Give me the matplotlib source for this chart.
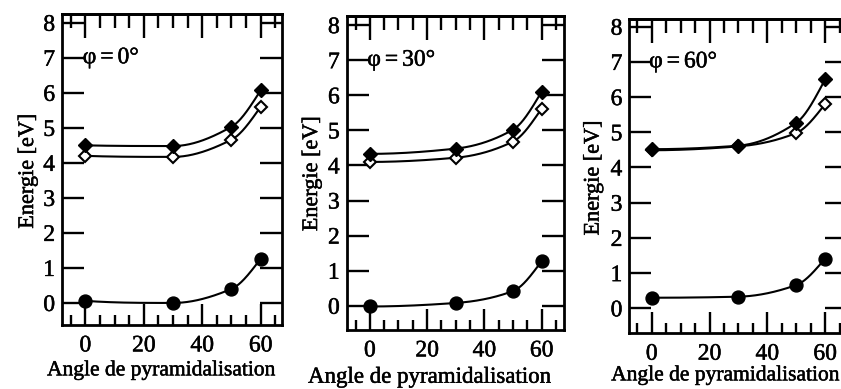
import numpy as np
import matplotlib
matplotlib.use("Agg")
import matplotlib.pyplot as plt
import matplotlib.patheffects as pe
from matplotlib.ticker import MultipleLocator

plt.rcParams['font.family'] = ['Liberation Serif', 'DejaVu Serif']

# pyramidalisation angles (degrees)
angles = [0, 30, 50, 60]

# phi = 0 deg
phi0_filled = [4.50, 4.48, 5.03, 6.07]
phi0_open = [4.20, 4.17, 4.66, 5.60]
phi0_circle = [0.06, 0.00, 0.40, 1.26]

# phi = 30 deg
phi30_filled = [4.33, 4.48, 5.02, 6.10]
phi30_open = [4.10, 4.22, 4.68, 5.62]
phi30_circle = [-0.02, 0.08, 0.42, 1.27]

# phi = 60 deg
phi60_filled = [4.52, 4.62, 5.27, 6.50]
phi60_open = [4.49, 4.60, 4.98, 5.80]
phi60_circle = [0.30, 0.33, 0.66, 1.41]

panel_titles = ["φ\u2006=\u20060°", "φ\u2006=\u200630°", "φ\u2006=\u200660°"]
y_ticks = [0, 1, 2, 3, 4, 5, 6, 7, 8]
x_ticks = [0, 20, 40, 60]
x_label = "Angle de pyramidalisation"
y_label = "Energie [eV]"

# slightly heavier glyphs, like printed type
heavy = [pe.Stroke(linewidth=0.35, foreground="black"), pe.Normal()]


def pchip(x, y, xs):
    """Monotone cubic Hermite curve through the measured points."""
    x = np.asarray(x, float)
    y = np.asarray(y, float)
    h = np.diff(x)
    delta = np.diff(y) / h
    n = len(x)
    d = np.zeros(n)
    for k in range(1, n - 1):
        if delta[k - 1] * delta[k] > 0:
            w1 = 2 * h[k] + h[k - 1]
            w2 = h[k] + 2 * h[k - 1]
            d[k] = (w1 + w2) / (w1 / delta[k - 1] + w2 / delta[k])

    def end_slope(h0, h1, d0, d1):
        s = ((2 * h0 + h1) * d0 - h0 * d1) / (h0 + h1)
        if np.sign(s) != np.sign(d0):
            s = 0.0
        elif np.sign(d0) != np.sign(d1) and abs(s) > abs(3 * d0):
            s = 3 * d0
        return s

    d[0] = end_slope(h[0], h[1], delta[0], delta[1])
    d[-1] = end_slope(h[-1], h[-2], delta[-1], delta[-2])

    xs = np.asarray(xs, float)
    idx = np.clip(np.searchsorted(x, xs) - 1, 0, n - 2)
    t = (xs - x[idx]) / h[idx]
    h00 = 2 * t**3 - 3 * t**2 + 1
    h10 = t**3 - 2 * t**2 + t
    h01 = -2 * t**3 + 3 * t**2
    h11 = t**3 - t**2
    return (h00 * y[idx] + h10 * h[idx] * d[idx]
            + h01 * y[idx + 1] + h11 * h[idx] * d[idx + 1])


fig = plt.figure(figsize=(8.41, 3.89), dpi=100, facecolor="white")

panels = [
    dict(rect=[0.0737, 0.1645, 0.2616, 0.7995], xlim=(-8.0, 67.3), ylim=(-0.63, 8.25),
         filled=phi0_filled, open=phi0_open, circle=phi0_circle,
         xl=(0.45, -0.162), xl_size=15.5, yl=(-0.152, 0.495)),
    dict(rect=[0.4122, 0.1517, 0.2584, 0.8072], xlim=(-8.1, 67.8), ylim=(-0.69, 8.26),
         filled=phi30_filled, open=phi30_open, circle=phi30_circle,
         xl=(0.38, -0.168), xl_size=16.5, yl=(-0.157, 0.498)),
    dict(rect=[0.7483, 0.1432, 0.2589, 0.8072], xlim=(-7.75, 67.6), ylim=(-0.71, 8.21),
         filled=phi60_filled, open=phi60_open, circle=phi60_circle,
         xl=(0.44, -0.15), xl_size=15.5, yl=(-0.162, 0.495)),
]

xs = np.linspace(angles[0], angles[-1], 300)

for p, title in zip(panels, panel_titles):
    ax = fig.add_axes(p["rect"])
    ax.set_xlim(*p["xlim"])
    ax.set_ylim(*p["ylim"])

    # curves and markers
    ax.plot(xs, pchip(angles, p["open"], xs), color="black", lw=1.5, zorder=2)
    ax.plot(angles, p["open"], ls="none", marker="D", ms=6.2, mfc="white",
            mec="black", mew=1.5, zorder=3)
    ax.plot(xs, pchip(angles, p["filled"], xs), color="black", lw=1.5, zorder=4)
    ax.plot(angles, p["filled"], ls="none", marker="D", ms=7.0, mfc="black",
            mec="black", zorder=5)
    ax.plot(xs, pchip(angles, p["circle"], xs), color="black", lw=1.5, zorder=4)
    ax.plot(angles, p["circle"], ls="none", marker="o", ms=9.3, mfc="black",
            mec="black", zorder=5)

    for s in ax.spines.values():
        s.set_linewidth(2.0)
        s.set_color("black")

    # bottom axis: labelled major ticks every 20, minor every 5
    ax.set_xticks(x_ticks)
    ax.xaxis.set_minor_locator(MultipleLocator(5))
    ax.tick_params(axis="x", which="major", direction="in", length=15, width=1.7,
                   pad=7.5, labelsize=17, top=False, bottom=True)
    ax.tick_params(axis="x", which="minor", direction="in", length=7, width=1.7,
                   top=False, bottom=True)

    # top axis: unlabelled ticks
    top = ax.secondary_xaxis("top")
    top.set_xticks(x_ticks)
    top.xaxis.set_minor_locator(MultipleLocator(5))
    top.tick_params(axis="x", which="major", direction="in", length=17, width=1.7,
                    labeltop=False)
    top.tick_params(axis="x", which="minor", direction="in", length=10, width=1.7)
    top.spines["top"].set_linewidth(2.0)

    ax.set_yticks(y_ticks)
    ax.tick_params(axis="y", which="major", direction="in", length=16, width=1.7,
                   pad=5, labelsize=17, left=True, right=True)

    for lab in ax.get_xticklabels() + ax.get_yticklabels():
        lab.set_path_effects(heavy)

    xl = ax.set_xlabel(x_label, fontsize=p["xl_size"], va="baseline")
    xl.set_path_effects(heavy)
    ax.xaxis.set_label_coords(*p["xl"])
    yl = ax.set_ylabel(y_label, fontsize=16, va="center")
    yl.set_path_effects(heavy)
    ax.yaxis.set_label_coords(*p["yl"])

    t = ax.text(-0.9, 7, title, fontsize=17, va="center", ha="left")
    t.set_path_effects(heavy)

fig.savefig("out.png", dpi=100, facecolor="white")
